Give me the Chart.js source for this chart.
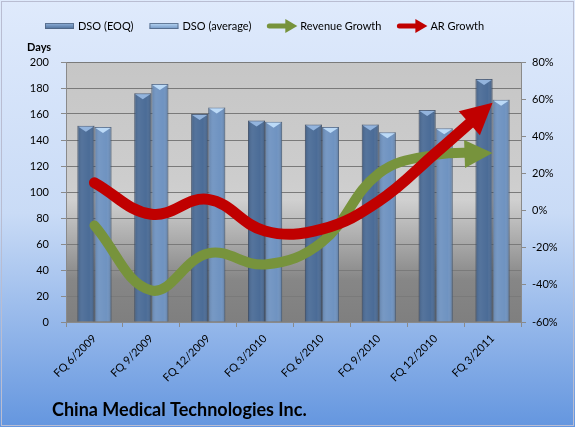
<!DOCTYPE html>
<html>
<head>
<meta charset="utf-8">
<script src="https://cdn.jsdelivr.net/npm/chart.js@4.4.1/dist/chart.umd.min.js"></script>
<style>
html, body { margin: 0; padding: 0; background: #fff; }
#wrap { width: 575px; height: 427px; }
</style>
</head>
<body>
<div id="wrap"><canvas id="c" width="575" height="427"></canvas></div>
<script>
// data
const categories = ['FQ 6/2009', 'FQ 9/2009', 'FQ 12/2009', 'FQ 3/2010', 'FQ 6/2010', 'FQ 9/2010', 'FQ 12/2010', 'FQ 3/2011'];
const dsoEoq = [151, 176, 160, 155, 152, 152, 163, 187];
const dsoAvg = [150, 183, 165, 154, 150, 146, 149, 171];
const revenueGrowth = [-8, -43, -23, -29, -17, 20, 30, 31];
const arGrowth = [15, -2, 6, -11, -10, 5, 31, 58];
const daysRange = [0, 200, 20];      // min, max, step
const pctRange = [-60, 80, 20];
const chartTitle = 'China Medical Technologies Inc.';
const daysLabel = 'Days';

const FONT = 'Lato, "Open Sans", sans-serif';
Chart.defaults.font.family = FONT;
Chart.defaults.font.size = 11;
Chart.defaults.color = '#000';

// 背景
const bgPlugin = {
    id: 'bg',
    beforeDraw(chart) {
        const { ctx, width, height, chartArea: a } = chart;
        ctx.save();
        let g = ctx.createLinearGradient(0, 0, 0, height);
        g.addColorStop(0, '#dfeafc');
        g.addColorStop(0.5, '#c9dbf6');
        g.addColorStop(1, '#6496df');
        ctx.fillStyle = g;
        ctx.fillRect(0, 0, width, height);
        ctx.strokeStyle = '#b9bdd2';
        ctx.lineWidth = 1;
        ctx.strokeRect(1.5, 1.5, width - 3, height - 3);

        g = ctx.createLinearGradient(0, a.top, 0, a.bottom);
        g.addColorStop(0, '#c6c6c6');
        g.addColorStop(0.45, '#cdcdcd');
        g.addColorStop(0.53, '#d0d0d0');
        g.addColorStop(0.84, '#868686');
        g.addColorStop(1, '#7f7f7f');
        ctx.fillStyle = g;
        ctx.fillRect(a.left, a.top, a.width, a.height);
        ctx.restore();
    }
};

// 棒の陰影
const barShade = {
    id: 'barShade',
    afterDatasetDraw(chart, args) {
        const meta = args.meta;
        if (meta.type !== 'bar') return;
        const ctx = chart.ctx;
        const light = chart.data.datasets[args.index].capColor;
        meta.data.forEach(bar => {
            const { x, y, base, width } = bar.getProps(['x', 'y', 'base', 'width'], true);
            const l = x - width / 2, r = x + width / 2;
            ctx.save();
            const g = ctx.createLinearGradient(l, 0, r, 0);
            g.addColorStop(0, 'rgba(0,0,0,0.15)');
            g.addColorStop(0.3, 'rgba(255,255,255,0.05)');
            g.addColorStop(0.7, 'rgba(255,255,255,0)');
            g.addColorStop(1, 'rgba(0,0,0,0.2)');
            ctx.fillStyle = g;
            ctx.fillRect(l, y, width, base - y);
            ctx.beginPath();
            ctx.moveTo(l + 1, y + 1);
            ctx.lineTo(r - 1, y + 1);
            ctx.lineTo(x, y + 6);
            ctx.closePath();
            ctx.fillStyle = light;
            ctx.fill();
            ctx.restore();
        });
    }
};

// 矢印
function arrowGeom(chart, index) {
    const ds = chart.data.datasets[index];
    const pts = chart.getDatasetMeta(index).data;
    const p = pts[pts.length - 1];
    let dx = p.x - p.cp1x, dy = p.y - p.cp1y;
    const len = Math.hypot(dx, dy) || 1;
    const ux = dx / len, uy = dy / len;
    return { p, ux, uy, nx: -uy, ny: ux, L: ds.arrow.len, W: ds.arrow.half };
}

const arrowPlugin = {
    id: 'arrows',
    beforeDatasetDraw(chart, args) {
        const ds = chart.data.datasets[args.index];
        if (!ds.arrow) return;
        const { p, ux, uy, nx, ny, L } = arrowGeom(chart, args.index);
        const ctx = chart.ctx;
        const bx = p.x - ux * L * 0.6, by = p.y - uy * L * 0.6;
        const s = 30;
        ctx.save();
        ctx.beginPath();
        ctx.rect(0, 0, chart.width, chart.height);
        ctx.moveTo(bx + nx * s, by + ny * s);
        ctx.lineTo(bx + nx * s + ux * s * 2, by + ny * s + uy * s * 2);
        ctx.lineTo(bx - nx * s + ux * s * 2, by - ny * s + uy * s * 2);
        ctx.lineTo(bx - nx * s, by - ny * s);
        ctx.closePath();
        ctx.clip('evenodd');
    },
    afterDatasetDraw(chart, args) {
        const ds = chart.data.datasets[args.index];
        if (!ds.arrow) return;
        const ctx = chart.ctx;
        ctx.restore();
        const { p, ux, uy, nx, ny, L, W } = arrowGeom(chart, args.index);
        const bx = p.x - ux * L, by = p.y - uy * L;
        ctx.save();
        ctx.beginPath();
        ctx.moveTo(p.x, p.y);
        ctx.lineTo(bx + nx * W, by + ny * W);
        ctx.lineTo(bx - nx * W, by - ny * W);
        ctx.closePath();
        ctx.fillStyle = ds.borderColor;
        ctx.fill();
        ctx.restore();
    }
};

// 凡例・タイトル
const decor = {
    id: 'decor',
    afterDraw(chart) {
        const ctx = chart.ctx;
        ctx.save();
        ctx.font = '11px ' + FONT;
        ctx.textBaseline = 'middle';
        ctx.textAlign = 'left';
        const order = [2, 3, 1, 0];
        let x = 45;
        const y = 26;
        order.forEach(i => {
            const ds = chart.data.datasets[i];
            if (ds.type === 'bar') {
                const g = ctx.createLinearGradient(0, y - 3, 0, y + 3);
                g.addColorStop(0, ds.capColor);
                g.addColorStop(1, ds.backgroundColor);
                ctx.fillStyle = g;
                ctx.fillRect(x, y - 3, 29, 6);
                ctx.strokeStyle = 'rgba(80,100,130,0.8)';
                ctx.lineWidth = 1;
                ctx.strokeRect(x + 0.5, y - 2.5, 28, 5);
            } else {
                ctx.strokeStyle = ds.borderColor;
                ctx.fillStyle = ds.borderColor;
                ctx.lineWidth = 5;
                ctx.lineCap = 'round';
                ctx.beginPath();
                ctx.moveTo(x + 2, y);
                ctx.lineTo(x + 19, y);
                ctx.stroke();
                ctx.beginPath();
                ctx.moveTo(x + 30, y);
                ctx.lineTo(x + 18, y - 7);
                ctx.lineTo(x + 18, y + 7);
                ctx.closePath();
                ctx.fill();
            }
            ctx.fillStyle = '#000';
            ctx.fillText(ds.label, x + 33, y);
            x += 33 + ctx.measureText(ds.label).width + 16;
        });

        ctx.font = 'bold 11px ' + FONT;
        ctx.fillText(daysLabel, 27, 47);

        ctx.font = 'bold 18px ' + FONT;
        ctx.textBaseline = 'alphabetic';
        ctx.fillText(chartTitle, 52, 416);
        ctx.restore();
    }
};

new Chart(document.getElementById('c'), {
    data: {
        labels: categories,
        datasets: [
            {
                type: 'line', label: 'AR Growth', data: arGrowth, yAxisID: 'y1',
                borderColor: '#c00000', borderWidth: 11, tension: 0.4, pointRadius: 0,
                borderCapStyle: 'round', order: 0, arrow: { len: 31, half: 16 }
            },
            {
                type: 'line', label: 'Revenue Growth', data: revenueGrowth, yAxisID: 'y1',
                borderColor: '#77933c', borderWidth: 10, tension: 0.4, pointRadius: 0,
                borderCapStyle: 'round', order: 1, arrow: { len: 28, half: 14 }
            },
            {
                type: 'bar', label: 'DSO (EOQ)', data: dsoEoq, yAxisID: 'y',
                backgroundColor: '#4b6c97', capColor: '#93b4dd', borderColor: 'rgba(70,90,120,0.9)', borderWidth: 1,
                categoryPercentage: 0.6, barPercentage: 1, order: 2
            },
            {
                type: 'bar', label: 'DSO (average)', data: dsoAvg, yAxisID: 'y',
                backgroundColor: '#6f93c1', capColor: '#bcdaf7', borderColor: 'rgba(90,115,150,0.9)', borderWidth: 1,
                categoryPercentage: 0.6, barPercentage: 1, order: 3
            }
        ]
    },
    options: {
        responsive: false,
        animation: false,
        layout: { padding: { top: 62, left: 0, right: 0, bottom: 0 } },
        plugins: { legend: { display: false }, title: { display: false }, tooltip: { enabled: false } },
        scales: {
            x: {
                type: 'category',
                offset: true,
                grid: { offset: true, drawOnChartArea: false, tickLength: 5, color: '#8a8a8a' },
                border: { color: '#8a8a8a' },
                ticks: { minRotation: 45, maxRotation: 45, autoSkip: false, padding: 5, font: { size: 11 } },
                afterFit(s) { s.height = 105; }
            },
            y: {
                position: 'left',
                min: daysRange[0], max: daysRange[1],
                ticks: { stepSize: daysRange[2], padding: 12 },
                grid: { color: '#7a7a7a', tickLength: 5, tickColor: '#8a8a8a' },
                border: { color: '#8a8a8a' },
                afterFit(s) { s.width = 66; }
            },
            y1: {
                position: 'right',
                min: pctRange[0], max: pctRange[1],
                ticks: { stepSize: pctRange[2], padding: 6, callback: v => v + '%' },
                grid: { drawOnChartArea: false, tickLength: 5, color: '#8a8a8a' },
                border: { color: '#8a8a8a' },
                afterFit(s) { s.width = 54; }
            }
        }
    },
    plugins: [bgPlugin, barShade, arrowPlugin, decor]
});
</script>
</body>
</html>
